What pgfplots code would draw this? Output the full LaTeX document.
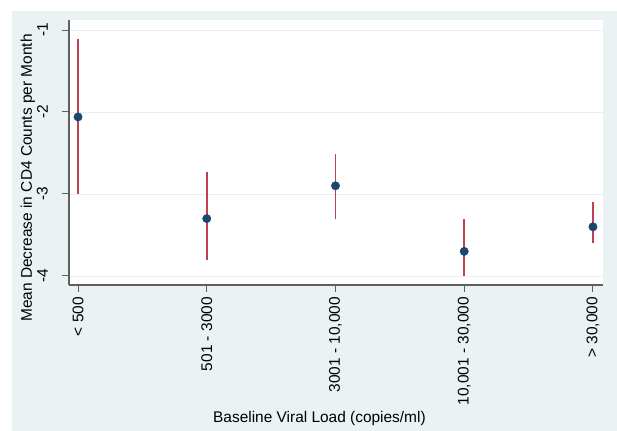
\documentclass[border=0pt]{standalone}
\usepackage{fontspec}
\setmainfont{Liberation Sans}
\usepackage{pgfplots}
\pgfplotsset{compat=1.18}
\usepackage{pgfplotstable}
\usetikzlibrary{backgrounds,calc}
\definecolor{panel}{RGB}{234,242,244}
\definecolor{gridc}{RGB}{230,238,241}
\definecolor{navyc}{RGB}{26,71,111}
\definecolor{barc}{RGB}{188,66,78}
\definecolor{axc}{RGB}{95,95,95}

\pgfplotstableread{
x y ep em
0 -2.06 0.95 0.94
1 -3.30 0.57 0.50
2 -2.90 0.39 0.40
3 -3.70 0.39 0.30
4 -3.40 0.30 0.20
}\data

\begin{document}
\begin{tikzpicture}
\begin{axis}[name=ax, scale only axis,
  width=534bp, height=265bp,
  xmin=-0.07, xmax=4.078, ymin=-4.11, ymax=-0.878,
  axis background/.style={fill=white},
  axis x line*=bottom, axis y line*=left,
  axis line style={axc, line width=1.1bp},
  xtick={0,1,2,3,4},
  xticklabels={{< 500},{501 - 3000},{3001 - 10,000},{10,001 - 30,000},{> 30,000}},
  ytick={-4,-3,-2,-1},
  yticklabels={{-4},{-3},{-2},{-1}},
  tick align=outside, major tick length=7bp,
  tick style={axc, line width=1bp},
  ymajorgrids, major grid style={gridc, line width=0.8bp},
  xticklabel style={rotate=90, anchor=east, inner sep=0pt, font=\fontsize{15.5}{18}\selectfont},
  yticklabel style={rotate=90, anchor=south, inner sep=0pt, font=\fontsize{15.5}{18}\selectfont},
  xticklabel shift=5bp,
  yticklabel shift=14bp,
  xlabel={Baseline Viral Load (copies/ml)},
  xlabel style={at={(axis description cs:0.469,-0.519)}, anchor=base, font=\fontsize{15.5}{18}\selectfont},
  ylabel={Mean Decrease in CD4 Counts per Month},
  ylabel style={at={(axis description cs:-0.0693,0.404)}, anchor=base, font=\fontsize{15.5}{18}\selectfont},
  clip=false,
]
\addplot[draw=none, mark=none,
  error bars/.cd, y dir=both, y explicit, error mark=none,
  error bar style={barc, line width=1.6bp}]
  table[x=x, y=y, y error plus=ep, y error minus=em] {\data};
\addplot[only marks, mark=*, mark size=4.2bp, mark options={fill=navyc, draw=navyc}]
  table[x=x, y=y] {\data};
\end{axis}
\begin{scope}[on background layer]
\fill[panel] ($(ax.south west)+(-57bp,-146bp)$) rectangle ($(ax.south west)+(548bp,274bp)$);
\end{scope}
\useasboundingbox ($(ax.south west)+(-69bp,-146bp)$) rectangle ($(ax.south west)+(548bp,285bp)$);
\end{tikzpicture}
\end{document}
